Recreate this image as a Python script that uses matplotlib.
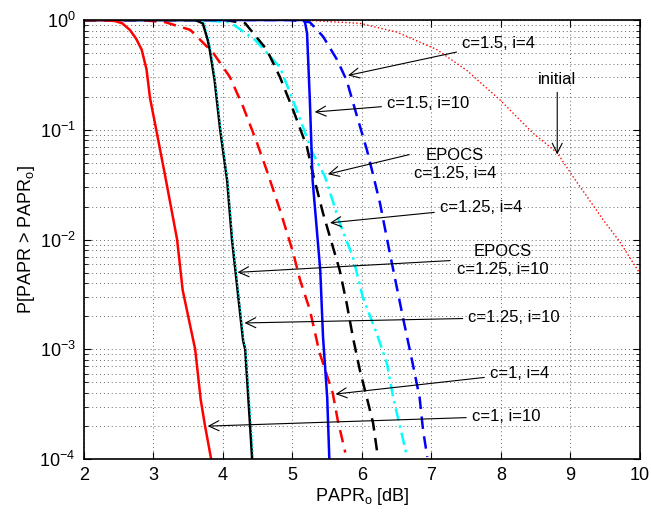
import matplotlib
matplotlib.use("Agg")
import matplotlib.pyplot as plt
import numpy as np

plt.rcParams['font.family'] = ['Liberation Sans', 'DejaVu Sans']
plt.rcParams['mathtext.default'] = 'regular'

# curves: x in dB, y as log10 of probability
x_c1_i10 = [2.0, 2.3, 2.45, 2.55, 2.66, 2.75, 2.83, 2.9, 2.95, 3.04, 3.18, 3.34, 3.42, 3.6, 3.68, 3.74, 3.83]
e_c1_i10 = [0, 0, -0.01, -0.03, -0.09, -0.17, -0.27, -0.45, -0.71, -1.0, -1.46, -2.0, -2.46, -3.0, -3.46, -3.69, -4.0]

x_c1_i4 = [2.0, 2.81, 3.17, 3.53, 3.86, 4.10, 4.29, 4.49, 4.63, 4.82, 5.01, 5.11, 5.25, 5.35, 5.38, 5.58, 5.65, 5.76]
e_c1_i4 = [0, 0, -0.02, -0.09, -0.30, -0.52, -0.79, -1.12, -1.37, -1.73, -2.12, -2.37, -2.64, -2.92, -3.01, -3.40, -3.64, -3.94]

x_c125_i10 = [2.0, 3.6, 3.71, 3.78, 3.81, 3.88, 3.96, 4.06, 4.13, 4.29, 4.32, 4.39, 4.42]
e_c125_i10 = [0, 0, -0.03, -0.18, -0.27, -0.55, -1.0, -1.46, -2.0, -2.92, -3.0, -3.69, -4.0]

x_ep_i10 = [2.0, 3.67, 3.74, 3.8, 3.83, 3.89, 3.97, 4.07, 4.14, 4.30, 4.33, 4.41, 4.44]
e_ep_i10 = [0, 0, -0.03, -0.18, -0.27, -0.55, -1.0, -1.46, -2.0, -2.92, -3.0, -3.69, -4.0]

x_c125_i4 = [2.0, 4.03, 4.32, 4.63, 4.82, 5.01, 5.21, 5.29, 5.44, 5.68, 5.78, 5.87, 5.97, 6.07, 6.16, 6.22]
e_c125_i4 = [0, 0, -0.03, -0.27, -0.52, -0.82, -1.16, -1.39, -1.76, -2.28, -2.58, -2.89, -3.19, -3.44, -3.67, -3.94]

x_ep_i4 = [2.0, 3.67, 4.10, 4.46, 4.82, 5.06, 5.29, 5.47, 5.68, 5.87, 6.01, 6.22, 6.36, 6.45, 6.55, 6.65]
e_ep_i4 = [0, 0, -0.02, -0.18, -0.43, -0.82, -1.21, -1.43, -1.85, -2.16, -2.52, -2.87, -3.13, -3.44, -3.71, -3.98]

x_c15_i10 = [2.0, 5.15, 5.18, 5.21, 5.25, 5.29, 5.40, 5.44, 5.50, 5.53]
e_c15_i10 = [0, 0, -0.02, -0.12, -0.73, -1.46, -2.28, -2.89, -3.44, -3.99]

x_c15_i4 = [2.0, 4.96, 5.25, 5.44, 5.64, 5.78, 5.93, 6.07, 6.16, 6.26, 6.40, 6.50, 6.59, 6.66, 6.73, 6.83, 6.88, 6.94]
e_c15_i4 = [0, 0, -0.02, -0.15, -0.36, -0.55, -0.88, -1.18, -1.41, -1.67, -2.12, -2.43, -2.71, -2.92, -3.13, -3.44, -3.74, -3.98]

x_init = [2.0, 5.11, 5.97, 6.50, 7.08, 7.51, 7.99, 8.46, 8.81, 9.04, 9.24, 9.47, 9.71, 10.0]
e_init = [0, 0, -0.03, -0.11, -0.27, -0.46, -0.73, -1.03, -1.21, -1.43, -1.61, -1.82, -2.02, -2.31]


def p(e):
    return 10.0 ** np.array(e)


fig = plt.figure(figsize=(6.51, 5.13), dpi=100)
ax = fig.add_axes([0.129, 0.105, 0.854, 0.856])

dash = (0, (5, 3))
ax.semilogy(x_init, p(e_init), color='red', linestyle=':', lw=1.0)
ax.semilogy(x_c15_i4, p(e_c15_i4), color='blue', linestyle=dash, lw=1.8)
ax.semilogy(x_ep_i4, p(e_ep_i4), color='cyan', linestyle=(0, (5, 2, 1, 2)), lw=1.8)
ax.semilogy(x_c125_i4, p(e_c125_i4), color='black', linestyle=dash, lw=1.8)
ax.semilogy(x_c1_i4, p(e_c1_i4), color='red', linestyle=dash, lw=1.8)
ax.semilogy(x_c15_i10, p(e_c15_i10), color='blue', lw=1.8)
ax.semilogy(x_c125_i10, p(e_c125_i10), color='black', lw=1.8)
ax.semilogy(x_ep_i10, p(e_ep_i10), color='cyan', linestyle=':', lw=1)
ax.semilogy(x_c1_i10, p(e_c1_i10), color='red', lw=1.8)

ax.set_xlim(2, 10)
ax.set_ylim(1e-4, 1)
ax.set_xticks(range(2, 11))

ax.grid(True, which='major', color='0.4', linestyle=(0, (1, 3)), lw=0.7)
ax.grid(True, which='minor', axis='y', color='0.4', linestyle=(0, (1, 3)), lw=0.7)
ax.tick_params(which='both', direction='in', top=True, right=True, labelsize=13)
ax.tick_params(which='major', length=5, pad=6)
ax.tick_params(which='minor', length=3)
for s in ax.spines.values():
    s.set_linewidth(1.2)

ax.set_xlabel('PAPR$_o$ [dB]', fontsize=13, labelpad=1)
ax.set_ylabel('P[PAPR > PAPR$_o$]', fontsize=13, labelpad=2)

arr = dict(arrowstyle='->', color='black', lw=0.8, mutation_scale=18)
fs = 12
ax.annotate('c=1.5, i=4', xy=(5.76, 10 ** -0.51), xytext=(7.44, 10 ** -0.21),
            fontsize=fs, ha='left', va='center', arrowprops=arr)
ax.annotate('c=1.5, i=10', xy=(5.28, 10 ** -0.84), xytext=(6.36, 10 ** -0.756),
            fontsize=fs, ha='left', va='center', arrowprops=arr)
ax.annotate('', xy=(5.47, 10 ** -1.41), xytext=(6.72, 10 ** -1.22), arrowprops=arr)
ax.text(7.34, 10 ** -1.32, 'EPOCS\nc=1.25, i=4', fontsize=fs, ha='center', va='center',
        linespacing=1.25)
ax.annotate('c=1.25, i=4', xy=(5.50, 10 ** -1.85), xytext=(7.12, 10 ** -1.71),
            fontsize=fs, ha='left', va='center', arrowprops=arr)
ax.annotate('', xy=(4.17, 10 ** -2.30), xytext=(7.31, 10 ** -2.19), arrowprops=arr)
ax.text(8.03, 10 ** -2.19, 'EPOCS\nc=1.25, i=10', fontsize=fs, ha='center', va='center',
        linespacing=1.25)
ax.annotate('c=1.25, i=10', xy=(4.27, 10 ** -2.76), xytext=(7.53, 10 ** -2.71),
            fontsize=fs, ha='left', va='center', arrowprops=arr)
ax.annotate('c=1, i=4', xy=(5.58, 10 ** -3.41), xytext=(7.84, 10 ** -3.22),
            fontsize=fs, ha='left', va='center', arrowprops=arr)
ax.annotate('c=1, i=10', xy=(3.74, 10 ** -3.70), xytext=(7.58, 10 ** -3.61),
            fontsize=fs, ha='left', va='center', arrowprops=arr)
ax.annotate('initial', xy=(8.81, 10 ** -1.25), xytext=(8.81, 10 ** -0.54),
            fontsize=fs, ha='center', va='center', arrowprops=arr)

fig.savefig('out.png', dpi=100)
